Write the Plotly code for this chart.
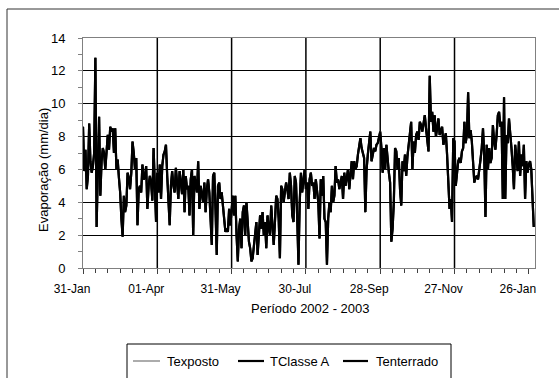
import pandas as pd
import plotly.graph_objects as go

start_date = "2002-01-31"
end_date = "2003-01-31"
series_names = ["Texposto", "TClasse A", "Tenterrado"]
series_colors = ["#909090", "black", "black"]
series_widths = [1.5, 2.2, 2.2]
tick_labels_fmt = "%d-%b"
grid_dates = ["2002-04-01", "2002-05-31", "2002-07-30", "2002-09-28", "2002-11-27"]
y_title = "Evaporação (mm/dia)"
x_title = "Período 2002 - 2003"

# daily evaporation (mm/dia), starting 31-Jan-2002
evaporacao = [
    8.6, 5.9, 7.2, 4.8, 5.6, 8.8, 6.5, 5.8, 6.2, 7.0,
    12.8, 2.5, 6.0, 9.2, 4.4, 6.5, 7.3, 7.0, 6.0, 7.4,
    8.1, 7.2, 8.6, 8.3, 8.5, 7.0, 8.5, 6.0, 6.6, 5.5,
    4.6, 3.0, 1.9, 4.4, 3.4, 3.8, 5.8, 5.5, 4.8, 5.8,
    7.7, 7.0, 6.0, 6.7, 2.6, 4.8, 5.0, 4.6, 6.3, 5.4,
    5.5, 6.2, 3.6, 5.0, 5.6, 5.2, 4.1, 7.3, 4.4, 2.8,
    5.8, 4.6, 6.3, 4.2, 6.2, 6.9, 7.1, 7.5, 5.6, 4.4,
    2.6, 5.0, 5.9, 5.0, 4.6, 6.1, 5.0, 4.2, 5.9, 5.2,
    4.5, 6.0, 3.4, 5.6, 4.8, 5.0, 3.2, 5.4, 6.0, 2.0,
    5.6, 5.2, 4.6, 6.5, 3.6, 5.0, 4.4, 4.0, 5.2, 3.4,
    4.8, 5.4, 4.6, 3.0, 1.4, 5.6, 5.8, 3.6, 0.8, 5.0,
    5.2, 4.2, 4.6, 3.8, 2.8, 2.2, 2.4, 2.2, 3.6, 2.6,
    3.5, 4.4, 3.2, 4.4, 2.0, 0.4, 2.4, 3.0, 1.2, 3.4,
    3.8, 2.0, 4.0, 2.6, 1.6, 1.2, 0.4, 0.6, 1.4, 2.2,
    2.8, 0.8, 2.0, 3.2, 2.4, 3.4, 2.0, 2.8, 1.2, 3.2,
    2.4, 2.0, 3.8, 2.2, 1.4, 2.8, 4.4, 4.2, 3.0, 0.6,
    5.0, 4.8, 4.0, 4.6, 5.2, 4.8, 4.2, 5.8, 5.0, 3.2,
    2.8, 5.6, 5.2, 3.0, 0.2, 4.0, 5.8, 4.6, 5.4, 6.0,
    4.8, 5.2, 3.6, 5.4, 5.8, 5.0, 5.2, 4.2, 5.4, 4.6,
    4.0, 1.8, 5.4, 4.4, 5.6, 3.0, 2.8, 0.2, 3.0, 4.0,
    3.4, 5.0, 4.0, 4.4, 6.2, 5.2, 5.4, 4.8, 5.2, 5.6,
    4.2, 5.8, 5.0, 5.6, 6.0, 4.8, 5.8, 6.5, 5.4, 6.5,
    6.0, 6.2, 6.9, 7.5, 7.9, 7.3, 6.9, 6.7, 3.4, 6.0,
    6.9, 7.5, 8.3, 6.5, 7.0, 7.3, 7.1, 7.5, 7.6, 8.1,
    8.3, 7.3, 5.8, 7.3, 6.0, 7.5, 6.5, 5.8, 5.2, 1.6,
    2.4, 4.0, 7.3, 7.1, 6.0, 6.7, 4.8, 3.8, 6.5, 5.9,
    6.9, 5.6, 6.8, 7.5, 8.1, 8.9, 6.0, 7.7, 7.0, 8.1,
    8.3, 7.8, 8.9, 8.7, 8.3, 8.9, 9.3, 8.5, 7.8, 7.1,
    11.7, 8.9, 9.5, 8.3, 9.3, 8.0, 8.5, 9.1, 8.1, 8.3,
    8.6, 7.5, 7.9, 8.2, 6.9, 5.6, 3.6, 4.2, 2.8, 7.9,
    7.7, 5.0, 6.0, 6.5, 6.7, 6.4, 7.1, 7.3, 8.9, 7.6,
    8.1, 10.7, 7.9, 8.4, 7.7, 6.7, 5.2, 5.5, 5.6, 5.4,
    6.2, 6.6, 7.3, 8.5, 6.9, 3.1, 7.5, 6.0, 7.3, 6.4,
    6.7, 8.7, 7.7, 7.2, 8.1, 9.3, 9.5, 8.6, 8.9, 4.2,
    10.4, 4.2, 8.1, 7.6, 9.1, 8.3, 7.3, 6.2, 4.8, 7.5,
    6.7, 5.9, 7.7, 5.6, 6.9, 6.2, 7.5, 4.2, 6.5, 5.8,
    6.3, 6.5, 6.0, 4.6, 2.5,
]
texposto = evaporacao
tclasse_a = evaporacao
tenterrado = evaporacao
series_values = [texposto, tclasse_a, tenterrado]

datas = pd.date_range(start_date, periods=len(evaporacao), freq="D")

W, H = 559, 378
L, R, T, B = 83, 535, 38, 268
pw, ph = R - L, B - T


def px(x):
    return (x - L) / pw


def py(y):
    return (B - y) / ph


FONT = "Liberation Sans, Arial, sans-serif"
DAY = 86400000

fig = go.Figure()
for name, vals, col, wd in zip(series_names, series_values, series_colors, series_widths):
    fig.add_trace(go.Scatter(x=datas, y=vals, name=name, mode="lines",
                             line=dict(color=col, width=wd), showlegend=False,
                             hoverinfo="skip"))

shapes = [
    # outer chart frame
    dict(type="rect", xref="paper", yref="paper",
         x0=px(7), x1=px(565), y0=py(390), y1=py(9),
         line=dict(color="#333333", width=1), fillcolor="rgba(0,0,0,0)", layer="below"),
]
# vertical gridlines
for d in grid_dates:
    shapes.append(dict(type="line", xref="x", yref="paper", x0=d, x1=d, y0=0, y1=1,
                       line=dict(color="black", width=1.5), layer="below"))

# legend box (manual)
shapes.append(dict(type="rect", xref="paper", yref="paper",
                   x0=px(127), x1=px(451), y0=py(390), y1=py(344),
                   line=dict(color="black", width=1), fillcolor="white"))
legend_line_x = [(133, 160), (238, 264), (343, 368)]
legend_text_x = [165, 268, 374]
annotations = []
for (a, b), tx, name, col, wd in zip(legend_line_x, legend_text_x, series_names,
                                     series_colors, series_widths):
    shapes.append(dict(type="line", xref="paper", yref="paper",
                       x0=px(a), x1=px(b), y0=py(361), y1=py(361),
                       line=dict(color=col, width=wd)))
    annotations.append(dict(text=name, xref="paper", yref="paper", x=px(tx), y=py(361),
                            showarrow=False, xanchor="left", yanchor="middle",
                            font=dict(size=13)))

annotations += [
    dict(text=y_title, xref="paper", yref="paper", x=px(43), y=py(170),
         textangle=-90, showarrow=False, xanchor="center", yanchor="middle",
         font=dict(size=13)),
    dict(text=x_title, xref="paper", yref="paper", x=px(310), y=py(308),
         showarrow=False, xanchor="center", yanchor="middle",
         font=dict(size=13)),
]

fig.update_layout(
    width=W, height=H,
    margin=dict(l=L, r=W - R, t=T, b=H - B, pad=0, autoexpand=False),
    paper_bgcolor="white", plot_bgcolor="white",
    font=dict(family=FONT, size=12, color="black"),
    showlegend=False,
    hovermode=False,
    xaxis=dict(
        type="date",
        range=[start_date, end_date],
        tickmode="linear", tick0=start_date, dtick=60 * DAY,
        tickformat=tick_labels_fmt,
        showgrid=False,
        showline=True, linecolor="#808080", linewidth=1, mirror=True,
        ticks="outside", ticklen=5, tickcolor="#404040",
        ticklabelstandoff=5, ticklabelshift=-11,
        minor=dict(tick0=start_date, dtick=10 * DAY, ticks="outside", ticklen=4,
                   tickcolor="#404040", showgrid=False),
        tickfont=dict(size=12),
        zeroline=False,
    ),
    yaxis=dict(
        range=[0, 14], dtick=2, tick0=0,
        showgrid=True, gridcolor="black", gridwidth=1,
        showline=True, linecolor="#808080", linewidth=1, mirror=True,
        ticks="outside", ticklen=4, tickcolor="#808080",
        ticklabelstandoff=10,
        minor=dict(dtick=1, ticks="outside", ticklen=4, tickcolor="#808080", showgrid=False),
        tickfont=dict(size=13),
        zeroline=False,
    ),
    shapes=shapes,
    annotations=annotations,
)

fig.write_html("out.html",
               config={"displayModeBar": False, "staticPlot": True},
               post_script="document.body.style.margin='0';document.body.style.overflow='hidden';")
